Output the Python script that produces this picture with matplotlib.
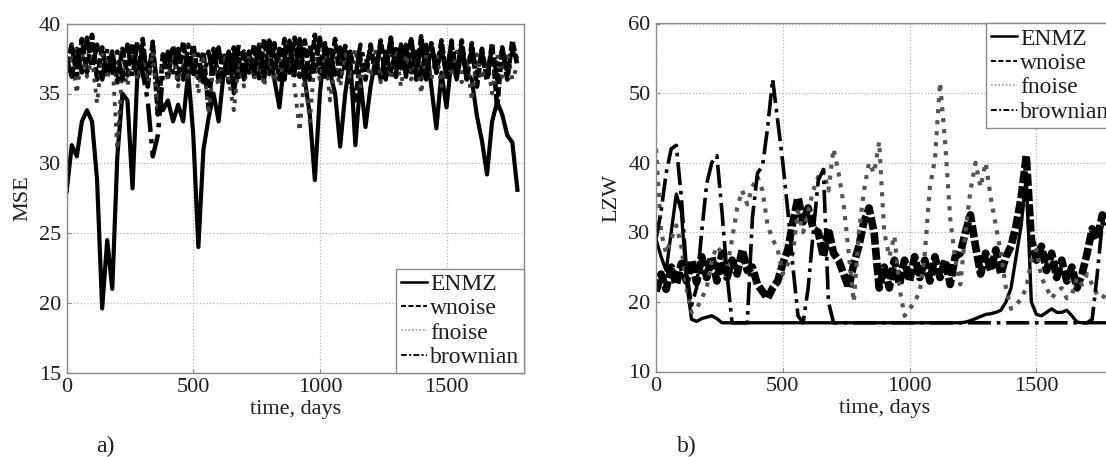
import matplotlib
matplotlib.use("Agg")
import matplotlib.pyplot as plt

# ---------------- data ----------------
days = list(range(0, 1800, 20))  # 0 .. 1780

series_names = ["ENMZ", "wnoise", "fnoise", "brownian"]

mse_enmz = [
    28.0, 31.3, 30.5, 33.0, 33.8, 33.0, 28.8, 19.6, 24.5, 21.0,
    30.5, 35.0, 34.5, 28.2, 36.8, 38.2, 36.5, 38.0, 35.5, 33.8,
    34.5, 33.0, 34.2, 33.0, 36.5, 32.0, 24.0, 31.0, 33.2, 35.0,
    33.0, 36.5, 38.0, 35.0, 37.5, 36.0, 38.0, 36.2, 38.2, 36.0,
    38.5, 36.0, 34.0, 37.5, 38.8, 36.5, 38.5, 36.0, 33.5, 28.8,
    35.0, 38.5, 36.5, 35.0, 31.2, 35.0, 37.5, 31.3, 36.0, 32.6,
    35.5, 37.5, 36.0, 38.0, 36.5, 38.2, 36.8, 38.5, 36.5, 38.0,
    36.0, 38.5, 35.5, 32.5, 36.5, 34.0, 37.5, 36.0, 38.0, 36.5,
    36.0, 33.4, 31.6, 29.2, 33.0, 34.4, 33.5, 32.0, 31.5, 28.1,
]
mse_wnoise = [
    37.0, 38.5, 36.2, 38.9, 36.5, 39.2, 36.0, 38.3, 36.4, 38.0,
    35.8, 38.2, 36.3, 38.6, 36.0, 38.9, 35.5, 38.7, 33.5, 37.8,
    36.2, 38.4, 36.0, 38.7, 36.4, 38.5, 36.1, 38.0, 34.0, 38.2,
    36.0, 37.9, 35.8, 38.3, 36.2, 38.0, 36.5, 38.5, 36.1, 38.9,
    36.4, 38.6, 36.0, 38.9, 36.5, 39.0, 36.2, 38.8, 36.0, 39.2,
    36.5, 38.6, 36.2, 38.9, 36.0, 38.4, 35.8, 34.5, 37.5, 36.0,
    38.5, 36.3, 38.8, 36.5, 39.0, 36.2, 38.5, 36.6, 38.9, 36.0,
    39.1, 36.3, 38.6, 36.5, 38.8, 36.2, 38.5, 36.4, 38.8, 36.0,
    38.6, 35.5, 38.2, 36.0, 38.6, 34.0, 38.3, 36.0, 38.8, 37.0,
]
mse_fnoise = [
    36.5, 37.8, 35.0, 38.0, 36.2, 37.5, 34.3, 37.8, 36.0, 37.5,
    31.0, 37.0, 35.5, 37.8, 36.0, 37.5, 35.8, 38.0, 34.0, 37.2,
    36.0, 37.8, 35.5, 37.0, 36.2, 38.0, 35.0, 37.5, 33.5, 37.0,
    35.5, 37.8, 36.0, 33.8, 37.2, 35.5, 37.8, 36.0, 37.5, 35.5,
    37.8, 35.8, 37.5, 36.0, 38.0, 35.5, 32.3, 36.5, 33.0, 37.5,
    36.0, 37.8, 34.5, 37.0, 35.5, 37.8, 36.0, 38.2, 35.5, 37.5,
    36.2, 38.0, 35.8, 37.5, 36.0, 38.2, 35.5, 37.8, 36.0, 37.5,
    35.0, 37.8, 36.0, 38.0, 35.5, 37.5, 36.2, 38.0, 35.8, 37.5,
    34.5, 37.8, 36.0, 37.5, 35.0, 37.8, 36.2, 38.0, 36.0, 37.0,
]
mse_brownian = [
    37.5, 36.2, 38.2, 36.5, 39.0, 36.8, 38.5, 36.0, 38.2, 36.5,
    38.0, 36.0, 38.5, 36.2, 38.8, 36.5, 34.5, 30.5, 32.0, 36.5,
    38.0, 36.5, 38.2, 36.0, 38.5, 36.4, 37.8, 35.8, 38.0, 36.2,
    38.3, 36.0, 38.0, 36.5, 38.5, 36.2, 38.0, 36.6, 38.5, 36.3,
    38.8, 36.5, 38.2, 36.0, 38.6, 36.3, 38.9, 36.0, 38.5, 36.4,
    39.0, 36.2, 38.5, 36.0, 38.3, 36.5, 38.0, 36.2, 38.5, 36.8,
    38.2, 36.5, 38.6, 36.0, 38.8, 36.4, 38.5, 36.2, 38.9, 36.5,
    38.4, 36.0, 38.6, 36.5, 38.3, 36.2, 38.8, 36.4, 38.5, 36.0,
    38.2, 36.5, 38.0, 35.8, 38.5, 36.0, 38.2, 36.5, 38.0, 37.5,
]

lzw_enmz = [
    29.0, 26.5, 24.5, 30.0, 35.5, 33.0, 23.0, 17.5, 17.2, 17.6,
    17.8, 18.0, 17.6, 17.0, 17.0, 17.0, 17.0, 17.0, 17.0, 17.0,
    17.0, 17.0, 17.0, 17.0, 17.0, 17.0, 17.0, 17.0, 17.0, 17.0,
    17.0, 17.0, 17.0, 17.0, 17.0, 17.0, 17.0, 17.0, 17.0, 17.0,
    17.0, 17.0, 17.0, 17.0, 17.0, 17.0, 17.0, 17.0, 17.0, 17.0,
    17.0, 17.0, 17.0, 17.0, 17.0, 17.0, 17.0, 17.0, 17.0, 17.0,
    17.0, 17.1, 17.3, 17.6, 17.9, 18.2, 18.3, 18.5, 18.8, 20.0,
    22.0, 26.5, 31.0, 38.0, 20.0, 18.2, 18.0, 18.5, 19.0, 18.5,
    18.5, 18.8, 18.0, 17.1, 17.0, 17.0, 17.0, 17.0, 17.0, 17.0,
]
lzw_wnoise = [
    21.5, 24.0, 21.8, 25.0, 22.5, 25.5, 23.0, 26.0, 22.8, 26.5,
    23.5, 26.5, 23.0, 27.0, 23.5, 26.0, 24.0, 27.5, 24.5, 25.0,
    22.5, 21.5, 20.5, 22.0, 23.0, 25.5, 27.5, 31.5, 35.0, 31.5,
    33.5, 30.5, 30.0, 26.5, 30.5, 27.0, 26.0, 24.0, 22.0, 25.5,
    28.0, 31.5, 33.5, 30.0, 22.0, 25.0, 22.0, 26.0, 22.5, 26.0,
    23.0, 26.5, 23.5, 26.0, 23.0, 26.5, 23.5, 26.0, 22.5, 26.5,
    27.0, 30.0, 32.5, 28.0, 24.0, 27.0, 24.5, 27.5, 24.0, 26.5,
    28.0, 31.0, 35.0, 41.0, 29.0, 26.0, 28.0, 24.5, 27.0, 23.5,
    26.0, 23.0, 25.0, 22.0, 24.0, 27.0, 30.5, 29.0, 32.5, 31.0,
]
lzw_fnoise = [
    42.0, 30.0, 27.0, 29.0, 31.0, 28.0, 22.0, 18.5, 19.0, 20.5,
    22.0, 26.0, 28.0, 27.0, 25.0, 29.0, 33.5, 36.0, 34.0, 36.5,
    38.0, 36.0, 31.0, 29.0, 27.5, 24.0, 25.5, 27.0, 33.0, 30.0,
    33.0, 36.0, 38.0, 39.0, 36.0, 42.0, 38.5, 34.0, 27.0, 20.0,
    30.0, 36.0, 40.0, 38.5, 43.0, 30.0, 26.5, 29.5, 22.0, 18.0,
    19.0, 20.0, 21.5, 27.0, 36.5, 40.5, 51.5, 43.0, 32.0, 26.0,
    22.5, 30.0, 36.0, 40.0, 36.5, 40.0, 35.0, 31.0, 27.0, 22.0,
    19.0, 19.5, 20.5, 22.0, 26.0, 27.5, 23.5, 22.0, 20.5, 21.5,
    22.0, 20.5, 21.0, 23.5, 22.5, 24.0, 22.5, 21.0, 20.5, 21.5,
]
lzw_brownian = [
    29.0, 33.0, 38.5, 42.0, 42.5, 35.0, 24.5, 19.5, 22.0, 30.0,
    37.0, 40.0, 41.0, 33.0, 24.0, 17.0, 17.0, 17.0, 17.0, 32.0,
    38.5, 39.5, 45.0, 52.0, 46.0, 40.0, 33.0, 25.0, 18.0, 17.0,
    22.0, 30.0, 37.5, 39.0, 20.0, 17.0, 17.0, 17.0, 17.0, 17.0,
    17.0, 17.0, 17.0, 17.0, 17.0, 17.0, 17.0, 17.0, 17.0, 17.0,
    17.0, 17.0, 17.0, 17.0, 17.0, 17.0, 17.0, 17.0, 17.0, 17.0,
    17.0, 17.0, 17.0, 17.0, 17.0, 17.0, 17.0, 17.0, 17.0, 17.0,
    17.0, 17.0, 17.0, 17.0, 17.0, 17.0, 17.0, 17.0, 17.0, 17.0,
    17.0, 17.0, 17.0, 17.0, 17.0, 17.0, 17.5, 24.0, 31.5, 31.0,
]

x_ticks = [0, 500, 1000, 1500]
mse_ticks = [15, 20, 25, 30, 35, 40]
lzw_ticks = [10, 20, 30, 40, 50, 60]

# ---------------- drawing ----------------
plt.rcParams["font.family"] = ["Liberation Serif", "DejaVu Serif"]
TXT = "#1e1e1e"
GRAY = "#8a8a8a"

fig = plt.figure(figsize=(11.06, 4.57), dpi=100)
W, H = 1106.0, 457.0

ax1 = fig.add_axes([66.7 / W, (H - 372.7) / H, 457.3 / W, 349.0 / H])
ax2 = fig.add_axes([656.0 / W, (H - 371.5) / H, 458.0 / W, 348.0 / H])

styles_a = [
    dict(ls="-", color="black", lw=3.0),
    dict(ls="--", color="black", lw=3.4, dashes=(2.0, 0.6)),
    dict(ls=":", color="#3c3c3c", lw=2.8),
    dict(ls="-.", color="black", lw=3.2),
]
styles_b = [
    dict(ls="-", color="black", lw=2.4),
    dict(ls="--", color="black", lw=5.5, dashes=(1.6, 0.4)),
    dict(ls=":", color="#555555", lw=3.0),
    dict(ls="-.", color="black", lw=2.6),
]
legend_lw = [1.8, 1.4, 1.2, 1.4]
legend_dashes = [None, (2.6, 1.2), (1.0, 1.2), (3.0, 1.2, 1.0, 1.2)]
legend_colors = ["black", "black", "#9a9a9a", "black"]


def decorate(ax, yticks, ylabel, legend_loc):
    ax.set_xlim(0, 1806)
    ax.set_ylim(yticks[0], yticks[-1])
    ax.set_xticks(x_ticks)
    ax.set_yticks(yticks)
    ax.grid(True, linestyle=":", color="#b4b4b4", linewidth=0.9)
    ax.set_axisbelow(True)
    for sp in ax.spines.values():
        sp.set_color(GRAY)
        sp.set_linewidth(1.0)
    ax.tick_params(direction="in", length=3, color=GRAY, labelsize=16,
                   labelcolor=TXT, pad=4)
    ax.set_xlabel("time, days", fontsize=16, color=TXT, labelpad=2)
    ax.set_ylabel(ylabel, fontsize=16, color=TXT)
    ax.yaxis.set_label_coords(-0.075, 0.5)
    leg = ax.legend(loc=legend_loc, fontsize=17, handlelength=1.1,
                    handletextpad=0.15, borderpad=0.2, labelspacing=0.12,
                    borderaxespad=0.0, fancybox=False, framealpha=1.0,
                    edgecolor=GRAY)
    leg.get_frame().set_linewidth(1.0)
    for ln, lw, ds, c in zip(leg.get_lines(), legend_lw, legend_dashes,
                             legend_colors):
        ln.set_linewidth(lw)
        ln.set_color(c)
        if ds is not None:
            ln.set_dashes(ds)
    for t in leg.get_texts():
        t.set_color(TXT)


for vals, name, st in zip([mse_enmz, mse_wnoise, mse_fnoise, mse_brownian],
                          series_names, styles_a):
    ax1.plot(days, vals, label=name, **st)
decorate(ax1, mse_ticks, "MSE", "lower right")

for vals, name, st in zip([lzw_enmz, lzw_wnoise, lzw_fnoise, lzw_brownian],
                          series_names, styles_b):
    ax2.plot(days, vals, label=name, **st)
decorate(ax2, lzw_ticks, "LZW", "upper right")

fig.text(105 / W, 1 - 446 / H, "a)", ha="center", va="center", fontsize=17, color=TXT)
fig.text(687 / W, 1 - 446 / H, "b)", ha="center", va="center", fontsize=17, color=TXT)

fig.savefig("out.png", dpi=100)
